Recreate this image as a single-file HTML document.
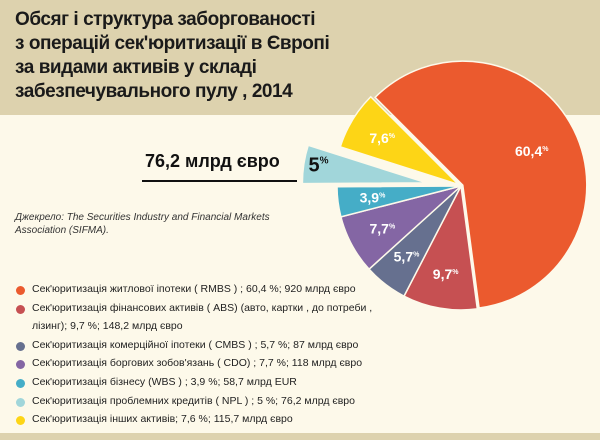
<!DOCTYPE html>
<html><head><meta charset="utf-8">
<style>
body{margin:0;width:600px;height:440px;overflow:hidden;background:#fdf9ea;font-family:"Liberation Sans",sans-serif;position:relative}
#hdr{position:absolute;left:0;top:0;width:600px;height:115px;background:#ddd2ae}
#ftr{position:absolute;left:0;top:433px;width:600px;height:7px;background:#ddd2ae}
#title{position:absolute;left:15px;top:8px;font-weight:bold;font-size:19px;line-height:24px;color:#1a1a1a;letter-spacing:-0.45px}
#total{position:absolute;left:145px;top:151px;font-weight:bold;font-size:18px;color:#111}
#uline{position:absolute;left:142px;top:180px;width:155px;height:2px;background:#111}
#src{position:absolute;left:15px;top:211px;font-style:italic;font-size:10px;line-height:13px;color:#333;width:290px}
.lg{position:absolute;left:32px;font-size:10.5px;color:#222;white-space:nowrap}
.dot{position:absolute;left:16px;width:9px;height:9px;border-radius:50%}
svg{position:absolute;left:0;top:0}
</style></head><body>
<div id="hdr"></div>
<div id="ftr"></div>
<div id="title">Обсяг і структура заборгованості<br>з операцій сек'юритизації в Європі<br>за видами активів у складі<br>забезпечувального пулу , 2014</div>
<div id="total">76,2 млрд євро</div>
<div id="uline"></div>
<div id="src">Джекрело: The Securities Industry and Financial Markets<br>Association (SIFMA).</div>
<svg id="pie" width="600" height="440"></svg>
<div id="legend"></div>
<script>
const categories=["RMBS","ABS","CMBS","CDO","WBS","NPL","Other"];
const values=[60.4,9.7,5.7,7.7,3.9,5,7.6];
const labels=["60,4","9,7","5,7","7,7","3,9","5","7,6"];
const colors=["#eb5a2e","#c65052","#66708f","#8466a4","#45adc7","#a1d6da","#fdd516"];
const legendTexts=["Сек'юритизація житлової іпотеки ( RMBS ) ; 60,4 %; 920 млрд євро","Сек'юритизація фінансових активів ( ABS) (авто, картки , до потреби ,","лізинг); 9,7 %; 148,2 млрд євро","Сек'юритизація комерційної іпотеки ( CMBS ) ; 5,7 %; 87 млрд євро","Сек'юритизація боргових зобов'язань ( CDO) ; 7,7 %; 118 млрд євро","Сек'юритизація бізнесу (WBS ) ; 3,9 %; 58,7 млрд EUR","Сек'юритизація проблемних кредитів ( NPL ) ; 5 %; 76,2 млрд євро","Сек'юритизація інших активів; 7,6 %; 115,7 млрд євро"];
const legendDot=[0,1,-1,2,3,4,5,6];
const explode=[2,0,0,0,0,35,3];
const cx=461,cy=186,R=124,startDeg=315;
const NS="http://www.w3.org/2000/svg";
const svg=document.getElementById('pie');
const total=values.reduce((a,b)=>a+b,0);
function pt(x,y,r,deg){const a=deg*Math.PI/180;return [x+r*Math.sin(a),y-r*Math.cos(a)];}
let a0=startDeg;
values.forEach((v,i)=>{
  const sweep=v/total*360,a1=a0+sweep,mid=a0+sweep/2;
  let [ox,oy]=pt(0,0,explode[i],mid);
  if(i===5){oy=oy*0.6;}
  const x=cx+ox,y=cy+oy;
  const p0=pt(x,y,R,a0),p1=pt(x,y,R,a1);
  const path=document.createElementNS(NS,'path');
  path.setAttribute('d',`M${x},${y}L${p0[0]},${p0[1]}A${R},${R} 0 ${sweep>180?1:0} 1 ${p1[0]},${p1[1]}Z`);
  path.setAttribute('fill',colors[i]);
  path.setAttribute('stroke','#fdf9ea');path.setAttribute('stroke-width','1.5');
  
  
  svg.appendChild(path);
  const lr=i===0?R*0.62:(i===5?R*0.88:R*0.72);
  const lp=pt(x,y,lr,mid);
  const t=document.createElementNS(NS,'text');
  t.setAttribute('x',lp[0]);t.setAttribute('y',lp[1]+5);
  t.setAttribute('text-anchor','middle');
  t.setAttribute('font-family','Liberation Sans, sans-serif');
  t.setAttribute('font-weight','bold');
  t.setAttribute('font-size',i===5?'20':'14');
  t.setAttribute('fill',i===5?'#111':'#fff');
  
  
  t.textContent=labels[i];
  const s=document.createElementNS(NS,'tspan');
  s.setAttribute('font-size',i===5?'10':'7');s.setAttribute('dy',i===5?'-8':'-5');
  s.textContent='%';t.appendChild(s);
  svg.appendChild(t);
  a0=a1;
});
const lg=document.getElementById('legend');
legendTexts.forEach((txt,i)=>{
  const top=283+i*18.6;
  const d=document.createElement('div');d.className='lg';d.style.top=top+'px';d.textContent=txt;
  
  
  lg.appendChild(d);
  if(legendDot[i]>=0){const c=document.createElement('div');c.className='dot';c.style.top=(top+3)+'px';c.style.background=colors[legendDot[i]];
  
  
  lg.appendChild(c);}
});
</script>
</body></html>
